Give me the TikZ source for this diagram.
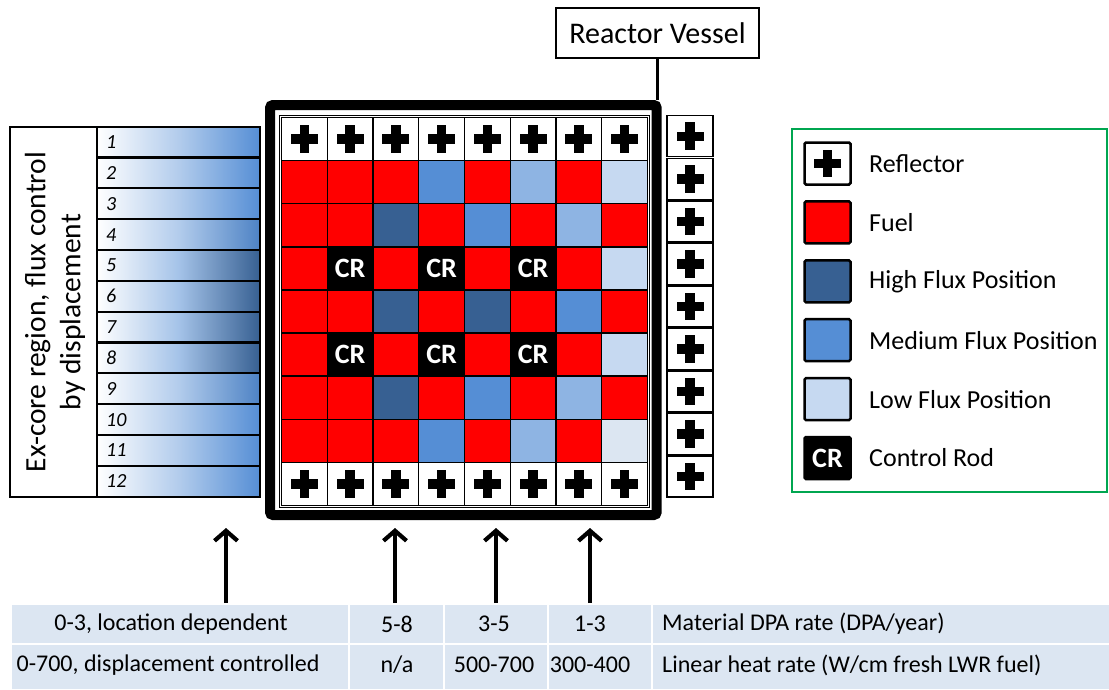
\documentclass[tikz,border=0pt]{standalone}
\usepackage{fontspec}
\setmainfont{Carlito}
\usetikzlibrary{arrows.meta}

\definecolor{fuelred}{HTML}{FF0000}
\definecolor{fluxhigh}{HTML}{376092}
\definecolor{fluxmed}{HTML}{558ED5}
\definecolor{fluxmid}{HTML}{8EB4E3}
\definecolor{fluxlow}{HTML}{C6D9F1}
\definecolor{fluxvlow}{HTML}{DCE6F2}
\definecolor{tablefill}{HTML}{DCE6F2}
\definecolor{legendgreen}{HTML}{00A650}
% fill colours of the core cells, keyed by one letter
\colorlet{cF}{fuelred}
\colorlet{cH}{fluxhigh}
\colorlet{cM}{fluxmed}
\colorlet{cI}{fluxmid}
\colorlet{cL}{fluxlow}
\colorlet{cV}{fluxvlow}
\colorlet{cC}{black}

\begin{document}
\begin{tikzpicture}[x=1pt,y=-1pt,
  corecell/.style={draw=black, line width=1.4pt, minimum width=45.75pt, minimum height=43.1pt, inner sep=0pt, outer sep=0pt},
  sidecell/.style={draw=black, line width=1.4pt, minimum width=46pt, minimum height=41pt, inner sep=0pt},
  slot/.style={draw=black, line width=2.2pt, minimum width=163pt, minimum height=30.83pt, inner sep=0pt, outer sep=0pt},
  slotnum/.style={font=\fontsize{20}{22}\selectfont\itshape, inner sep=0pt},
  crtext/.style={text=white, font=\fontsize{28}{30}\selectfont\bfseries, inner sep=0pt},
  legbox/.style={draw=black, line width=2.5pt, rounded corners=1.5pt, minimum width=46pt, minimum height=42pt, inner sep=0pt},
  legtext/.style={font=\fontsize{26}{30}\selectfont, inner sep=0pt},
  tabcell/.style={fill=tablefill, draw=white, line width=2pt, inner sep=0pt},
  tabtext/.style={font=\fontsize{24}{27}\selectfont, inner sep=0pt},
  flowarrow/.style={line width=4.2pt, -{Straight Barb[length=10pt, width=23pt, line width=4.2pt]}},
  reflcross/.pic={
    \fill[black] (-13.5,-4.7) rectangle (13.5,4.7);
    \fill[black] (-4.7,-13.8) rectangle (4.7,13.8);
  }
]
\useasboundingbox (0,0) rectangle (1109,689);
\fill[white] (0,0) rectangle (1109,689);

% ---------- ex-core region with twelve displacement slots ----------
\node[draw=black, line width=2pt, minimum width=87pt, minimum height=370pt, inner sep=0pt] (exbox) at (53.5,311.7) {};
\node[rotate=90, align=center, font=\fontsize{29.5}{35}\selectfont] (exlabel) at (55,312) {Ex-core region, flux control\\by displacement};
\foreach \i/\rc/\mc in {1/fluxmed/fluxmed!45!white, 2/fluxmed/fluxmed!45!white, 3/fluxmed/fluxmed!45!white,
                        4/fluxmed!75!fluxhigh/fluxmed!45!white, 5/fluxhigh/fluxmid!80!white, 6/fluxhigh/fluxmid!80!white,
                        7/fluxhigh/fluxmid!80!white, 8/fluxhigh/fluxmid!80!white, 9/fluxmed!75!fluxhigh/fluxmed!45!white,
                        10/fluxmed/fluxmed!45!white, 11/fluxmed/fluxmed!45!white, 12/fluxmed/fluxmed!45!white}
{
  \node[slot, left color=white, right color=\rc, middle color=\mc] (slot-\i) at (178.5,{126.7+(\i-0.5)*30.83}) {};
  \node[slotnum, anchor=west] (num-\i) at (106,{126.7+(\i-0.5)*30.83}) {\i};
}

% ---------- reactor vessel and core ----------
\node[draw=black, line width=10pt, rounded corners=3pt, minimum width=386.7pt, minimum height=410pt, inner sep=0pt] (vessel) at (463.35,310) {};
\node[draw=black, line width=1.5pt, minimum width=370pt, minimum height=392pt, inner sep=0pt] (core) at (464.5,311.5) {};

\foreach \row [count=\r from 2] in {{F,F,F,M,F,I,F,L},{F,F,H,F,M,F,I,F},{F,C,F,C,F,C,F,L},{F,F,H,F,H,F,M,F},{F,C,F,C,F,C,F,L},{F,F,H,F,M,F,I,F},{F,F,F,M,F,I,F,V}}
  \foreach \k [count=\c] in \row
    \node[corecell, fill=c\k] (cell-\r-\c) at ({281.5+(\c-0.5)*45.75},{117.5+(\r-0.5)*43.1}) {};

\foreach \r in {1,9}
  \foreach \c in {1,...,8}
  {
    \node[corecell, fill=white] (cell-\r-\c) at ({281.5+(\c-0.5)*45.75},{117.5+(\r-0.5)*43.1}) {};
    \pic at (cell-\r-\c) {reflcross};
  }

\foreach \r in {4,6}
  \foreach \c in {2,4,6}
    \node[crtext] (cr-\r-\c) at (cell-\r-\c) {CR};

% reflector column outside the vessel
\foreach \i in {1,...,9}
{
  \node[sidecell] (side-\i) at (690,{115+(\i-0.5)*42.55}) {};
  \pic at (side-\i) {reflcross};
}

% vessel callout
\node[draw=black, line width=1.3pt, minimum width=203pt, minimum height=50pt, inner sep=0pt, font=\fontsize{30}{33}\selectfont] (rv) at (657.5,33) {Reactor Vessel};
\draw[line width=3.3pt] (rv.south) -- (rv.south |- vessel.north);

% ---------- legend ----------
\node[draw=legendgreen, line width=2pt, minimum width=315pt, minimum height=363pt, inner sep=0pt] (legend) at (949.5,310.5) {};
\foreach \i/\col/\txt in {0/white/Reflector, 1/fuelred/Fuel, 2/fluxhigh/High Flux Position, 3/fluxmed/Medium Flux Position, 4/fluxlow/Low Flux Position, 5/black/Control Rod}
{
  \node[legbox, fill=\col] (key-\i) at (827.5,{163.5+58.9*\i}) {};
  \node[legtext, anchor=west] (keytext-\i) at (869,{163.5+58.9*\i}) {\txt};
}
\pic at (key-0) {reflcross};
\node[crtext] (key-cr) at (key-5) {CR};

% ---------- data table ----------
\foreach \j/\cx/\w in {1/180/338, 2/396.5/95, 3/496/104, 4/600/104, 5/882/460}
{
  \node[tabcell, minimum width=\w pt, minimum height=40pt] (tab-1-\j) at (\cx,624) {};
  \node[tabcell, minimum width=\w pt, minimum height=46pt] (tab-2-\j) at (\cx,667) {};
}
\node[tabtext] (dpa-1) at (171,624) {0-3, location dependent};
\node[tabtext] (dpa-2) at (397,624) {5-8};
\node[tabtext] (dpa-3) at (494,624) {3-5};
\node[tabtext] (dpa-4) at (590,624) {1-3};
\node[tabtext, anchor=west] (dpa-5) at (662,624) {Material DPA rate (DPA/year)};
\node[tabtext] (lhr-1) at (168,665) {0-700, displacement controlled};
\node[tabtext] (lhr-2) at (397,665) {n/a};
\node[tabtext] (lhr-3) at (494,665) {500-700};
\node[tabtext] (lhr-4) at (590,665) {300-400};
\node[tabtext, anchor=west] (lhr-5) at (662,665) {Linear heat rate (W/cm fresh LWR fuel)};

% arrows from the table up to the regions they describe
\foreach \i/\x in {1/226, 2/395, 3/496, 4/590}
{
  \coordinate (tip-\i) at (\x,528);
  \draw[flowarrow] (tab-1-\i.north -| tip-\i) -- (tip-\i);
}
\end{tikzpicture}
\end{document}
